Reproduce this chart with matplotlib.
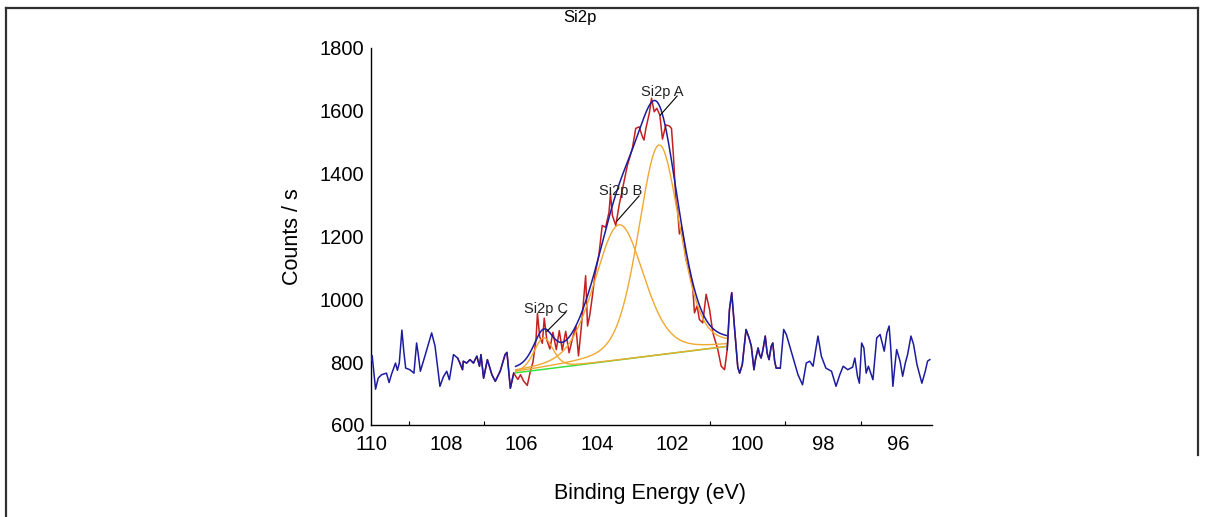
import numpy as np
import matplotlib
matplotlib.use("Agg")
import matplotlib.pyplot as plt
from matplotlib.lines import Line2D
from matplotlib.ticker import FixedLocator

plt.rcParams["font.family"] = ["Liberation Sans", "DejaVu Sans"]

# Measured Si2p spectrum (binding energy in eV, counts per second)
binding_energy = [
    110.00, 109.97, 109.88, 109.81, 109.72, 109.59, 109.52, 109.46, 109.35, 109.30,
    109.25, 109.18, 109.13, 109.08, 108.97, 108.86, 108.79, 108.75, 108.69, 108.57,
    108.39, 108.30, 108.17, 108.08, 107.99, 107.92, 107.81, 107.70, 107.64, 107.57,
    107.55, 107.46, 107.37, 107.28, 107.19, 107.12, 107.08, 107.01, 106.91, 106.79,
    106.70, 106.57, 106.44, 106.39, 106.30, 106.21, 106.10, 106.03, 105.95, 105.85,
    105.78, 105.70, 105.62, 105.58, 105.52, 105.45, 105.40, 105.33, 105.25, 105.17,
    105.08, 105.00, 104.92, 104.83, 104.74, 104.65, 104.56, 104.49, 104.42, 104.30,
    104.25, 104.19, 104.12, 104.05, 103.95, 103.86, 103.77, 103.68, 103.64, 103.59,
    103.50, 103.41, 103.32, 103.19, 103.06, 102.97, 102.88, 102.79, 102.75, 102.70,
    102.61, 102.55, 102.48, 102.41, 102.33, 102.26, 102.17, 102.08, 102.02, 101.97,
    101.90, 101.86, 101.81, 101.75, 101.68, 101.64, 101.55, 101.46, 101.41, 101.34,
    101.28, 101.19, 101.10, 101.01, 100.92, 100.79, 100.70, 100.61, 100.54, 100.48,
    100.42, 100.35, 100.26, 100.21, 100.14, 100.04, 99.96, 99.90, 99.83, 99.79,
    99.72, 99.68, 99.64, 99.59, 99.53, 99.48, 99.43, 99.37, 99.33, 99.28,
    99.24, 99.13, 99.04, 98.97, 98.88, 98.75, 98.66, 98.54, 98.44, 98.35,
    98.26, 98.13, 98.04, 97.92, 97.77, 97.65, 97.55, 97.46, 97.34, 97.21,
    97.15, 97.08, 97.03, 96.97, 96.91, 96.85, 96.79, 96.67, 96.57, 96.48,
    96.37, 96.30, 96.24, 96.20, 96.14, 96.08, 96.04, 95.95, 95.88, 95.81,
    95.75, 95.66, 95.59, 95.50, 95.37, 95.28, 95.22, 95.16,
]
counts = [
    803, 821, 714, 749, 760, 765, 735, 760, 797, 774,
    797, 902, 835, 781, 776, 765, 861, 829, 771, 819,
    893, 851, 723, 753, 771, 744, 824, 813, 797, 776,
    803, 797, 808, 797, 819, 787, 824, 749, 808, 760,
    739, 771, 824, 831, 717, 765, 745, 760, 740, 726,
    765, 800, 870, 955, 880, 860, 940, 870, 842, 895,
    840, 900, 838, 898, 830, 875, 915, 820, 905, 1075,
    915, 950, 1011, 1080, 1140, 1235, 1229, 1277, 1336, 1267,
    1235, 1300, 1352, 1427, 1480, 1544, 1549, 1517, 1507, 1544,
    1592, 1640, 1597, 1608, 1587, 1510, 1555, 1552, 1544, 1460,
    1309, 1288, 1208, 1229, 1181, 1128, 1096, 1043, 957, 979,
    936, 925, 1016, 968, 893, 840, 787, 776, 840, 968,
    1021, 915, 784, 765, 792, 904, 877, 851, 776, 808,
    845, 824, 813, 840, 883, 829, 808, 851, 861, 803,
    781, 781, 904, 888, 851, 797, 760, 728, 797, 803,
    787, 883, 819, 781, 771, 723, 760, 787, 776, 784,
    813, 755, 733, 861, 845, 765, 787, 744, 877, 888,
    835, 893, 915, 851, 723, 797, 840, 803, 755, 797,
    824, 883, 856, 792, 733, 771, 803, 808,
]

# Fitting region and linear background end points
region_energy = [106.16, 100.56]
region_background = [766, 850]
# Energy span over which the raw data is drawn in red
red_span = [107.70, 99.13]

# Fitted components
peak_names = ["Si2p A", "Si2p B", "Si2p C"]
peak_centres = [102.35, 103.41, 105.42]
peak_heights = [668, 430, 100]
peak_fwhm = [1.30, 1.55, 0.60]
lorentz_fraction = 0.3

# Component labels and their leader lines
label_positions = [(102.27, 1659), (103.36, 1346), (105.36, 968)]
leader_starts = [(101.87, 1647), (102.88, 1329), (104.83, 958)]
leader_ends = [(102.32, 1586), (103.47, 1249), (105.33, 898)]

x_tick_labels = [110, 108, 106, 104, 102, 100, 98, 96]
x_minor_ticks = [109, 108, 107, 106, 101, 100, 99, 98, 97, 96]
y_ticks = [600, 800, 1000, 1200, 1400, 1600, 1800]

BLUE = "#1c1ca0"
RED = "#c42020"
ORANGE = "#f0a830"
GREEN = "#3ee03e"


def gl_sum(x, centre, height, fwhm, m):
    r2 = 4.0 * (x - centre) ** 2 / fwhm ** 2
    return height * ((1 - m) * np.exp(-np.log(2) * r2) + m / (1 + r2))


be = np.array(binding_energy)
cps = np.array(counts)

fig = plt.figure(figsize=(12.07, 5.17), dpi=100)
ax = fig.add_axes([0.3074, 0.178, 0.4648, 0.7292])

# Raw data inside the region (red) and outside (blue)
red_mask = (be <= red_span[0]) & (be >= red_span[1])
ax.plot(be[red_mask], cps[red_mask], color=RED, lw=1.1, zorder=2)
left_mask = be >= 106.21
right_mask = be <= 100.54
ax.plot(be[left_mask], cps[left_mask], color=BLUE, lw=1.1, zorder=4)
ax.plot(be[right_mask], cps[right_mask], color=BLUE, lw=1.1, zorder=4)

# Background, components and envelope
xs = np.linspace(region_energy[0], region_energy[1], 400)
bg = np.interp(xs, region_energy[::-1], region_background[::-1])
ax.plot(xs, bg, color=GREEN, lw=1.1, zorder=3)
envelope = bg.copy()
for c, h, w in zip(peak_centres, peak_heights, peak_fwhm):
    comp = gl_sum(xs, c, h, w, lorentz_fraction)
    ax.plot(xs, bg + comp, color=ORANGE, lw=1.0, zorder=3)
    envelope += comp
ax.plot(xs, envelope, color=BLUE, lw=1.1, zorder=5)

# Component labels
for name, pos, p0, p1 in zip(peak_names, label_positions, leader_starts, leader_ends):
    ax.plot([p0[0], p1[0]], [p0[1], p1[1]], color="black", lw=0.8, zorder=6)
    ax.text(pos[0], pos[1], name, ha="center", va="center", fontsize=10.5,
            color="#222222", zorder=7)

ax.set_xlim(110, 95.1)
ax.set_ylim(600, 1800)
ax.set_xticks(x_tick_labels)
ax.set_xticklabels([str(v) for v in x_tick_labels])
ax.xaxis.set_minor_locator(FixedLocator(x_minor_ticks))
ax.set_yticks(y_ticks)
ax.tick_params(axis="x", which="major", length=0, pad=7, labelsize=14.5)
ax.tick_params(axis="x", which="minor", direction="in", length=3, width=0.8)
ax.tick_params(axis="y", which="major", length=0, pad=5, labelsize=14.5)
for side in ("top", "right"):
    ax.spines[side].set_visible(False)
for side in ("left", "bottom"):
    ax.spines[side].set_linewidth(1.0)

ax.set_xlabel("Binding Energy (eV)", fontsize=15.5)
ax.xaxis.set_label_coords(0.497, -0.155)
ax.set_ylabel("Counts / s", fontsize=15.5)
ax.yaxis.set_label_coords(-0.121, 0.5)
ax.text(0.3725, 1.0796, "Si2p", transform=ax.transAxes, ha="center",
        va="center", fontsize=12)

# Frame around the figure
frame_kw = dict(color="#303030", lw=1.6, transform=fig.transFigure)
fig.add_artist(Line2D([0.0047, 0.9925], [0.985, 0.985], **frame_kw))
fig.add_artist(Line2D([0.0047, 0.0047], [0.985, 0.0], **frame_kw))
fig.add_artist(Line2D([0.9925, 0.9925], [0.985, 0.12], **frame_kw))

fig.savefig("out.png", dpi=100)
